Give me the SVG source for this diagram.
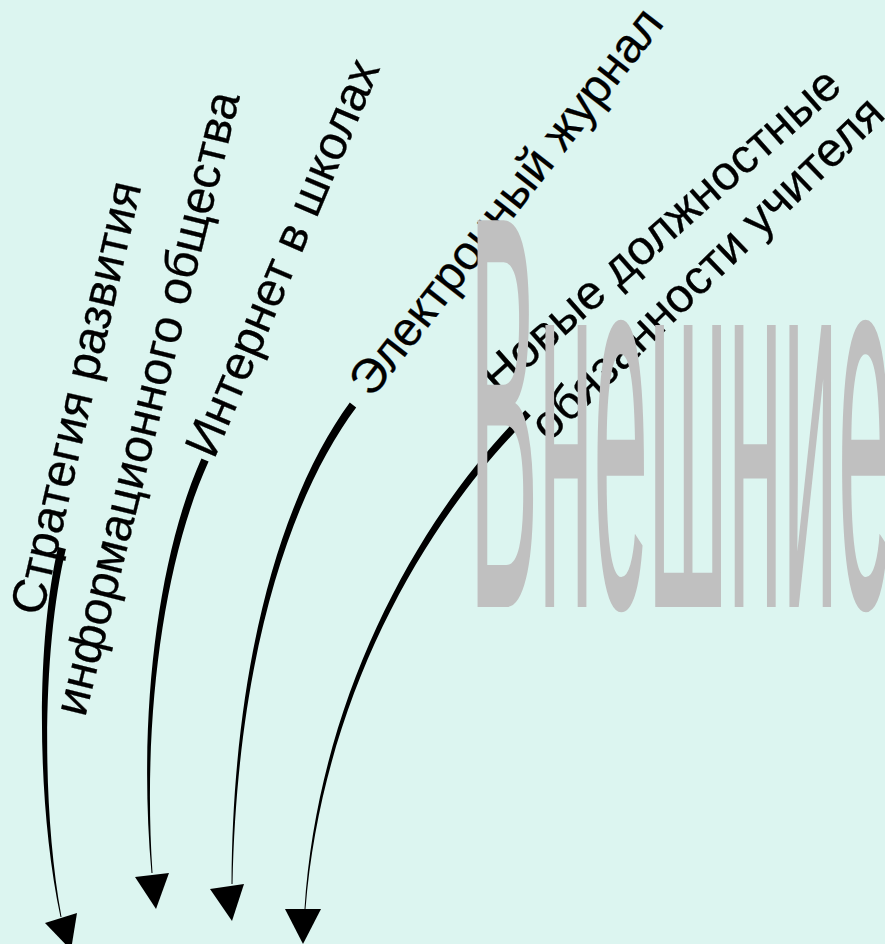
<svg xmlns="http://www.w3.org/2000/svg" width="885" height="944" viewBox="0 0 885 944">
<style>
.lbl{font-family:"Liberation Sans",Arial,sans-serif;font-size:48px;fill:#000;stroke:#000;stroke-width:0.3}
.big{font-family:"Liberation Sans",Arial,sans-serif;font-size:534px;fill:#C0C0C0}
.arr{fill:#000;stroke:none}
</style>
<rect width="885" height="944" fill="#DCF5F0"/>
<g id="connectors">
<path class="arr" d="M65.9,548.9 C43.5,640.35 40.2,800 61.5,916.9 L60.5,917.1 C35.8,800 36.5,639.65 58.1,547.1 Z"/>
<polygon class="arr" points="45,923 77,913 71,950"/>
<path class="arr" d="M208.6,461.6 C163.4,560.9 142.2,720.1 152.5,873 L151.5,873 C137.8,719.9 156.6,559.1 201.4,458.4 Z"/>
<polygon class="arr" points="135,877 169,873 156,909"/>
<path class="arr" d="M356.2,407.4 C293.2,491.5 237.2,650.3 232.5,884 L231.5,884 C232.8,649.7 286.8,488.5 349.8,402.6 Z"/>
<polygon class="arr" points="210,889 244,884 232,921"/>
<path class="arr" d="M530.8,415.8 C422.8,522 322.1,700.6 305.5,909 L304.5,909 C317.9,699.4 417.2,518 525.2,410.2 Z"/>
<polygon class="arr" points="285,909 321,909 303,944"/>
</g>
<g id="node-strategy">
<text class="lbl" transform="translate(42,617) rotate(-77)">Стратегия развития</text>
<text class="lbl" transform="translate(85,718) rotate(-76)">информационного общества</text>
</g>
<g id="node-internet">
<text class="lbl" transform="translate(214,460) rotate(-67)">Интернет в школах</text>
</g>
<g id="node-journal">
<text class="lbl" transform="translate(372,399) rotate(-52)">Электронный журнал</text>
</g>
<g id="node-duties">
<text class="lbl" transform="translate(498,395) rotate(-41.5)">Новые должностные</text>
<text class="lbl" transform="translate(549,443) rotate(-44)">обязанности учителя</text>
</g>
<g id="title">
<text class="big" x="469" y="607" textLength="424" lengthAdjust="spacingAndGlyphs"><tspan font-size="562">В</tspan>нешние</text>
</g>
</svg>
